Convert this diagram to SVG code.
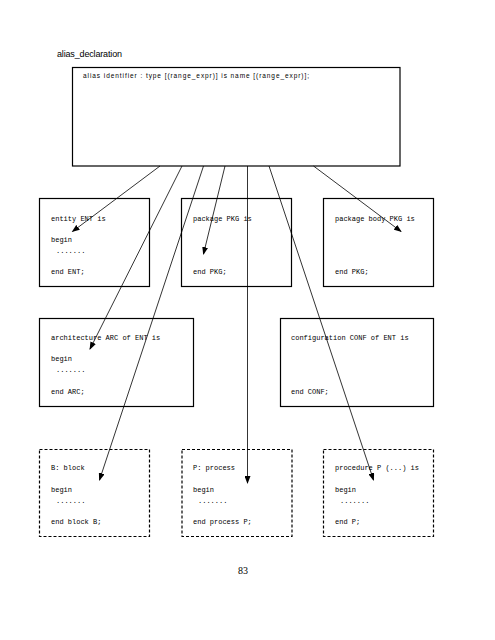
<svg xmlns="http://www.w3.org/2000/svg" width="495" height="640" viewBox="0 0 495 640">
<style>
.box{fill:none;stroke:#000;stroke-width:1.2}
.dash{fill:none;stroke:#000;stroke-width:1.2;stroke-dasharray:3,2}
.tt{font-family:"Liberation Mono","DejaVu Sans Mono",monospace;font-size:7px;fill:#000}
.sf{font-family:"Liberation Sans",Arial,sans-serif;fill:#000}
.con line{stroke:#000;stroke-width:0.8;marker-end:url(#ah)}
</style>
<defs>
<marker id="ah" markerWidth="8" markerHeight="6" refX="7" refY="3" orient="auto" markerUnits="userSpaceOnUse">
<path d="M0,0 L8,3 L0,6 z" fill="#000"/>
</marker>
</defs>
<rect width="495" height="640" fill="#fff"/>
<text class="sf" x="57" y="57" font-size="9" textLength="65">alias_declaration</text>
<g id="alias">
<rect class="box" x="72.5" y="67.5" width="327.5" height="98.5"/>
<text class="sf" x="83" y="78" font-size="6.5" textLength="226">alias identifier : type [(range_expr)] is name [(range_expr)];</text>
</g>
<g id="entity">
<rect class="box" x="39.5" y="198.5" width="110" height="88"/>
<text class="tt" x="51" y="221">entity ENT is</text>
<text class="tt" x="51" y="242">begin</text>
<text class="tt" x="56" y="253">.......</text>
<text class="tt" x="51" y="274">end ENT;</text>
</g>
<g id="package">
<rect class="box" x="181.5" y="198.5" width="110" height="88"/>
<text class="tt" x="193" y="221">package PKG is</text>
<text class="tt" x="193" y="274">end PKG;</text>
</g>
<g id="packagebody">
<rect class="box" x="323.5" y="198.5" width="110" height="88"/>
<text class="tt" x="335" y="221">package body PKG is</text>
<text class="tt" x="335" y="274">end PKG;</text>
</g>
<g id="architecture">
<rect class="box" x="39.5" y="318.5" width="154" height="88"/>
<text class="tt" x="51" y="340">architecture ARC of ENT is</text>
<text class="tt" x="51" y="361">begin</text>
<text class="tt" x="56" y="372">.......</text>
<text class="tt" x="51" y="394">end ARC;</text>
</g>
<g id="configuration">
<rect class="box" x="280.5" y="318.5" width="153" height="88"/>
<text class="tt" x="291" y="340">configuration CONF of ENT is</text>
<text class="tt" x="291" y="394">end CONF;</text>
</g>
<g id="block">
<rect class="dash" x="39.5" y="449.5" width="110" height="87"/>
<text class="tt" x="51" y="470">B: block</text>
<text class="tt" x="51" y="492">begin</text>
<text class="tt" x="56" y="503">.......</text>
<text class="tt" x="51" y="524">end block B;</text>
</g>
<g id="process">
<rect class="dash" x="182" y="449.5" width="110" height="87"/>
<text class="tt" x="193" y="470">P: process</text>
<text class="tt" x="193" y="492">begin</text>
<text class="tt" x="198" y="503">.......</text>
<text class="tt" x="193" y="524">end process P;</text>
</g>
<g id="procedure">
<rect class="dash" x="323.5" y="449.5" width="110" height="87"/>
<text class="tt" x="335" y="470">procedure P (...) is</text>
<text class="tt" x="335" y="492">begin</text>
<text class="tt" x="340" y="503">.......</text>
<text class="tt" x="335" y="524">end P;</text>
</g>
<g id="connectors" class="con">
<line x1="160" y1="166" x2="72.5" y2="231.5"/>
<line x1="182" y1="166" x2="90" y2="349"/>
<line x1="203.5" y1="166" x2="99.5" y2="480"/>
<line x1="225" y1="166" x2="203.5" y2="254"/>
<line x1="247.5" y1="166" x2="247.5" y2="483"/>
<line x1="269" y1="166" x2="373.5" y2="480"/>
<line x1="313.5" y1="166" x2="401" y2="231.5"/>
</g>
<text x="243" y="574" font-family="Liberation Serif,serif" font-size="10" text-anchor="middle">83</text>
</svg>
